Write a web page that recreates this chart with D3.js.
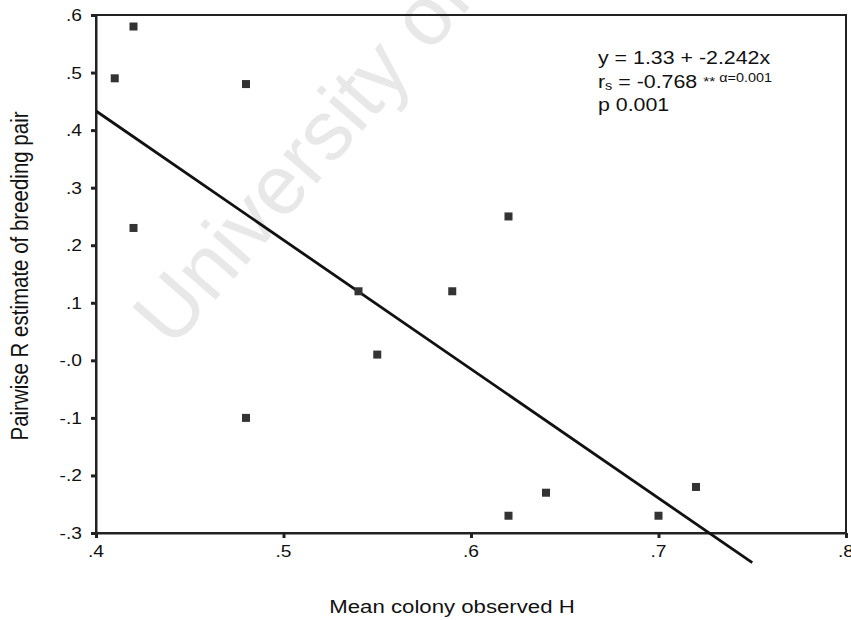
<!DOCTYPE html>
<html>
<head>
<meta charset="utf-8">
<script src="https://cdn.jsdelivr.net/npm/d3@7"></script>
<style>
  html, body { margin: 0; padding: 0; background: #fff; }
  svg { display: block; font-family: "Liberation Sans", Arial, sans-serif; }
</style>
</head>
<body>
<svg id="chart" width="851" height="620"></svg>
<script>
// Mean colony observed heterozygosity vs pairwise relatedness of breeding pair
const heterozygosity = [0.41, 0.42, 0.42, 0.48, 0.48, 0.54, 0.55, 0.59, 0.62, 0.62, 0.64, 0.70, 0.72];
const relatedness    = [0.49, 0.58, 0.23, 0.48, -0.10, 0.12, 0.01, 0.12, 0.25, -0.27, -0.23, -0.27, -0.22];

const xTicks = [0.4, 0.5, 0.6, 0.7, 0.8];
const xTickLabels = [".4", ".5", ".6", ".7", ".8"];
const yTicks = [0.6, 0.5, 0.4, 0.3, 0.2, 0.1, 0.0, -0.1, -0.2, -0.3];
const yTickLabels = [".6", ".5", ".4", ".3", ".2", ".1", "-.0", "-.1", "-.2", "-.3"];

// Fitted line y = 1.33 + -2.242x, drawn over this H range
const fitIntercept = 1.33;
const fitSlope = -2.242;
const fitRange = [0.4, 0.75];

const svg = d3.select("#chart");
const stretch = 1.2; // text is set slightly wide

const x = d3.scaleLinear().domain([0.4, 0.8]).range([96, 846]);
const y = d3.scaleLinear().domain([-0.3, 0.6]).range([533, 15]);

// faint watermark behind the chart
svg.append("text")
  .attr("transform", "translate(172,350) rotate(-49)")
  .attr("font-size", 84)
  .attr("fill", "#e8e8e8")
  .text("University of");

// helper for horizontally widened text
function wideText(g, px, py, str, size, anchor, rot) {
  return g.append("text")
    .attr("transform", `translate(${px},${py}) scale(${stretch},1)` + (rot ? ` rotate(${rot})` : ""))
    .attr("font-size", size)
    .attr("text-anchor", anchor || "start")
    .attr("fill", "#111")
    .text(str);
}

// plot frame
svg.append("rect")
  .attr("x", x(0.4)).attr("y", y(0.6))
  .attr("width", x(0.8) - x(0.4)).attr("height", y(-0.3) - y(0.6))
  .attr("fill", "none").attr("stroke", "#222").attr("stroke-width", 2);

// axes
const xAxis = d3.axisBottom(x).tickValues(xTicks)
  .tickFormat((d, i) => xTickLabels[i]).tickSize(5).tickSizeOuter(0);
const gx = svg.append("g").attr("transform", `translate(0,${y(-0.3)})`).call(xAxis);
gx.select(".domain").attr("stroke", "#222").attr("stroke-width", 2);
gx.selectAll(".tick line").attr("stroke", "#222").attr("stroke-width", 3);
gx.selectAll(".tick text").remove();
xTicks.forEach((v, i) => wideText(svg, x(v), 557, xTickLabels[i], 16, "middle"));

const yAxis = d3.axisLeft(y).tickValues(yTicks)
  .tickFormat((d, i) => yTickLabels[i]).tickSize(5).tickSizeOuter(0);
const gy = svg.append("g").attr("transform", `translate(${x(0.4)},0)`).call(yAxis);
gy.select(".domain").attr("stroke", "#222").attr("stroke-width", 2);
gy.selectAll(".tick line").attr("stroke", "#222").attr("stroke-width", 3);
gy.selectAll(".tick text").remove();
yTicks.forEach((v, i) => wideText(svg, 82, y(v) + 6, yTickLabels[i], 16, "end"));

// regression line
const fitLine = d3.line().x(d => x(d)).y(d => y(fitIntercept + fitSlope * d));
svg.append("path")
  .attr("d", fitLine(fitRange))
  .attr("fill", "none").attr("stroke", "#111").attr("stroke-width", 2.8);

// points
const pts = heterozygosity.map((h, i) => ({ h, r: relatedness[i] }));
svg.selectAll("rect.pt").data(pts).enter().append("rect")
  .attr("class", "pt")
  .attr("x", d => x(d.h) - 4).attr("y", d => y(d.r) - 4)
  .attr("width", 8).attr("height", 8)
  .attr("fill", "#333");

// axis titles
wideText(svg, 452, 613, "Mean colony observed H", 18.5, "middle");
wideText(svg, 28, 276, "Pairwise R estimate of breeding pair", 20.5, "middle", -90);

// statistics annotation
const ann = svg.append("g");
wideText(ann, 598, 64, "y = 1.33 + -2.242x", 17.8, "start");
const l2 = wideText(ann, 598, 88, "", 17.8, "start");
l2.append("tspan").text("r");
l2.append("tspan").attr("font-size", 12).attr("dy", 2).text("s");
l2.append("tspan").attr("dy", -2).text(" = -0.768 ");
l2.append("tspan").attr("font-size", 13).attr("dy", -2).text("**");
l2.append("tspan").attr("font-size", 12).attr("dy", -4).text(" \u03b1=0.001");
wideText(ann, 598, 111, "p 0.001", 17.8, "start");
</script>
</body>
</html>
